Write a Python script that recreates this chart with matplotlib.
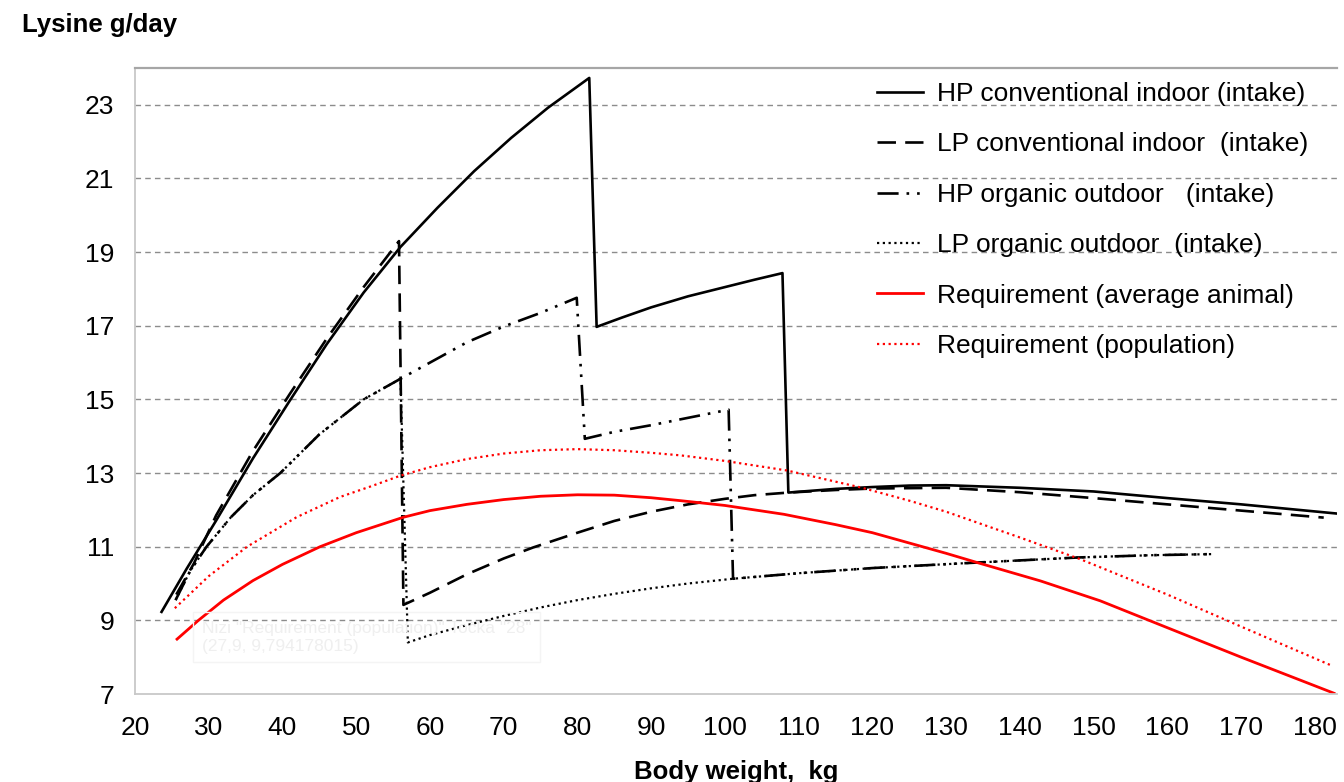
import matplotlib
matplotlib.use("Agg")
import matplotlib.pyplot as plt

plt.rcParams['font.family'] = ['Liberation Sans', 'DejaVu Sans']

# HP conventional indoor (intake)
hp_conv_x = [23.6, 27, 31, 36, 41, 46, 51, 56, 61, 66, 71, 76, 81.6, 82.6, 86, 90, 95, 100, 104, 107.8,
             108.6, 115, 120, 125, 130, 140, 150, 160, 170, 183]
hp_conv_y = [9.23, 10.4, 11.71, 13.4, 14.97, 16.5, 17.9, 19.14, 20.2, 21.2, 22.1, 22.92, 23.73, 16.97, 17.22,
             17.5, 17.8, 18.05, 18.25, 18.43, 12.47, 12.57, 12.62, 12.66, 12.67, 12.6, 12.5, 12.32, 12.15, 11.9]

# LP conventional indoor (intake)
lp_conv_x = [25.6, 28, 31, 36, 41, 46, 51, 55.8, 56.4, 60, 65, 70, 74, 80, 85, 90, 95, 100, 104, 108.6,
             115, 120, 130, 140, 150, 160, 170, 181.2]
lp_conv_y = [9.7, 10.55, 11.85, 13.6, 15.15, 16.65, 18.05, 19.3, 9.42, 9.75, 10.25, 10.68, 10.98, 11.38, 11.7,
             11.95, 12.15, 12.3, 12.4, 12.47, 12.54, 12.58, 12.6, 12.48, 12.32, 12.15, 11.98, 11.79]

# HP organic outdoor (intake)
hp_org_x = [25.5, 27.5, 29.7, 33, 36, 39.7, 45, 51, 56, 60, 65, 70, 75, 79.9, 81, 85, 90, 95, 100.5, 101.1,
            110, 120, 134.2, 148.2, 158, 166.4]
hp_org_y = [9.55, 10.35, 11.0, 11.8, 12.4, 13.0, 14.05, 15.0, 15.56, 16.0, 16.55, 16.98, 17.35, 17.76, 13.93,
            14.12, 14.3, 14.5, 14.72, 10.13, 10.28, 10.42, 10.57, 10.71, 10.77, 10.8]

# LP organic outdoor (intake)
lp_org_x = [25.5, 27.5, 29.7, 33, 36, 39.7, 45, 51, 56, 57, 60, 65, 70, 75, 80, 85, 90, 95, 101.1,
            110, 120, 134.2, 148.2, 158, 166.4]
lp_org_y = [9.55, 10.35, 11.0, 11.8, 12.4, 13.0, 14.05, 15.0, 15.56, 8.4, 8.6, 8.87, 9.12, 9.35, 9.55, 9.72,
            9.87, 10.0, 10.13, 10.28, 10.42, 10.57, 10.71, 10.77, 10.8]

# Requirement (average animal)
req_avg_x = [25.7, 28.6, 32, 36, 40, 45.1, 50, 56.4, 60, 65, 70, 75, 80, 85, 90, 94, 100, 105, 108, 115,
             120, 125, 130, 134.2, 142.8, 150.9, 160, 170, 182.6]
req_avg_y = [8.49, 9.0, 9.55, 10.08, 10.52, 11.0, 11.38, 11.8, 11.98, 12.15, 12.28, 12.37, 12.41, 12.4, 12.33,
             12.25, 12.12, 11.97, 11.88, 11.6, 11.38, 11.1, 10.82, 10.57, 10.07, 9.53, 8.8, 8.0, 7.02]

# Requirement (population)
req_pop_x = [25.4, 28, 30, 35.2, 41.9, 47.8, 52, 56, 60, 65, 70, 75, 80, 85, 90, 94, 100, 108.4, 118.4,
             125, 130, 140, 148.2, 160, 170, 182.4]
req_pop_y = [9.33, 9.82, 10.2, 11.0, 11.8, 12.35, 12.64, 12.93, 13.16, 13.38, 13.53, 13.62, 13.65, 13.62,
             13.55, 13.48, 13.33, 13.07, 12.61, 12.25, 11.95, 11.25, 10.66, 9.7, 8.83, 7.76]

x_ticks = list(range(20, 181, 10))
y_ticks = list(range(7, 24, 2))

fig = plt.figure(figsize=(13.44, 7.82), dpi=100)
ax = fig.add_axes([135 / 1344, 88 / 782, 1202 / 1344, 626 / 782])

ax.plot(hp_conv_x, hp_conv_y, color='black', lw=1.9, label='HP conventional indoor (intake)')
ax.plot(lp_conv_x, lp_conv_y, color='black', lw=1.9, dashes=(7, 3.5), label='LP conventional indoor  (intake)')
ax.plot(hp_org_x, hp_org_y, color='black', lw=1.9, dashes=(8, 3, 1, 3, 1, 3),
        label='HP organic outdoor   (intake)')
ax.plot(lp_org_x, lp_org_y, color='black', lw=1.6, dashes=(1, 1.6), label='LP organic outdoor  (intake)')
ax.plot(req_avg_x, req_avg_y, color='#ff0000', lw=2.0, label='Requirement (average animal)')
ax.plot(req_pop_x, req_pop_y, color='#ff0000', lw=1.6, dashes=(1, 1.6), label='Requirement (population)')

ax.set_xlim(20, 183)
ax.set_ylim(7, 24)
ax.set_xticks(x_ticks)
ax.set_yticks(y_ticks)
ax.tick_params(length=0, labelsize=19)
ax.tick_params(axis='y', pad=15)
ax.tick_params(axis='x', pad=16)

for v in y_ticks[1:]:
    ax.axhline(v, color='#8c8c8c', lw=1, dashes=(4, 3), zorder=0)

ax.spines['right'].set_visible(False)
ax.spines['top'].set_color('#a6a6a6')
ax.spines['top'].set_linewidth(1.6)
ax.spines['left'].set_color('#c8c8c8')
ax.spines['left'].set_linewidth(1.3)
ax.spines['bottom'].set_color('#c8c8c8')
ax.spines['bottom'].set_linewidth(1.3)

ax.set_xlabel('Body weight,  kg', fontsize=18.5, fontweight='bold', labelpad=14)
fig.text(22 / 1344, 1 - 25 / 782, 'Lysine g/day', fontsize=18.5, fontweight='bold', va='center', ha='left')

ax.legend(loc='upper left', bbox_to_anchor=(877 / 1344, 1 - 82 / 782), bbox_transform=fig.transFigure,
          frameon=False, fontsize=19, handlelength=1.74, handletextpad=0.53, labelspacing=1.0,
          borderpad=0, borderaxespad=0)

# faint leftover tooltip from the original screenshot
fig.text(202 / 1344, 1 - 637 / 782, 'Nizi "Requirement (population)" Točka "28"\n(27,9, 9,794178015)',
         fontsize=12.5, color='#efefef', va='center', ha='left', linespacing=1.25,
         bbox=dict(boxstyle='square,pad=0.5', facecolor='none', edgecolor='#f4f4f4', lw=1))

fig.savefig('out.png', dpi=100)
